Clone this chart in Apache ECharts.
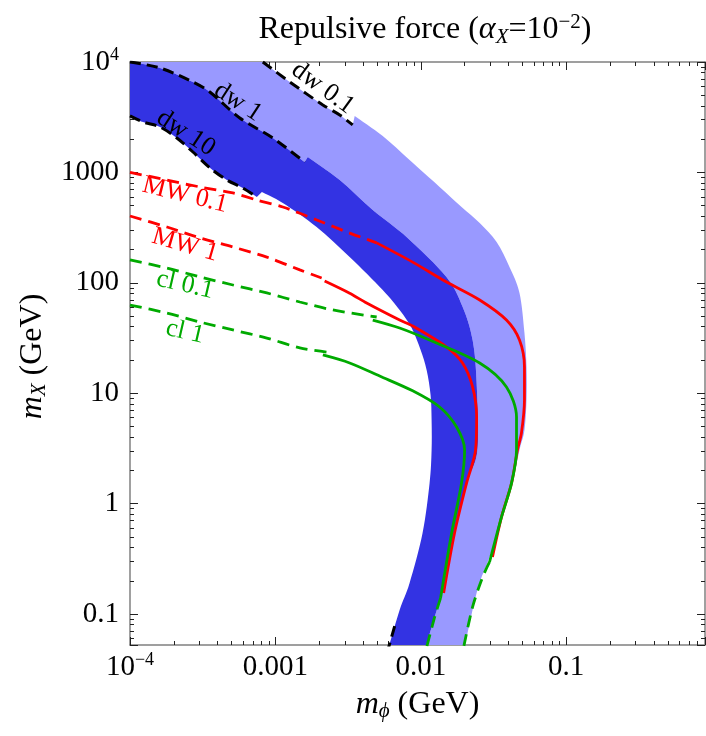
<!DOCTYPE html>
<html><head><meta charset="utf-8">
<script src="https://cdn.jsdelivr.net/npm/echarts@6/dist/echarts.min.js"></script>
<style>html,body{margin:0;padding:0;background:#fff}#c{width:706px;height:736px}</style>
</head><body><div id="c"></div>
<script>
// ===== data: [m_phi (GeV), m_X (GeV)] =====
const xTickValues = [1e-4, 1e-3, 0.01, 0.1];
const xTickTexts  = ['10{sup|−4}', '0.001', '0.01', '0.1'];
const yTickValues = [1e4, 1000, 100, 10, 1, 0.1];
const yTickTexts  = ['10{sup|4}', '1000', '100', '10', '1', '0.1'];

// dw 10 boundary (lower-left edge of dark band)
const dw10Dashed = [[1e-4,3250],[1.23e-4,2860],[1.61e-4,2580],[2.10e-4,2050],[2.71e-4,1530],[3.54e-4,1100],[4.64e-4,853],[5.97e-4,722],[7.45e-4,600]];
const dw10Edge = [[8.07e-4,664],[1.124e-3,528],[1.92e-3,320],[3.24e-3,171],[5.47e-3,86.1],[7.15e-3,56.8],[8.65e-3,39.0],[9.97e-3,24.6],[1.096e-2,16.2],[1.167e-2,9.64],[1.186e-2,5.71],[1.186e-2,3.06],[1.149e-2,1.54],[1.028e-2,0.542],[8.37e-3,0.191],[7.15e-3,0.109],[6.01e-3,0.05]];
const dw10Tail = [[6.61e-3,0.0778],[6.01e-3,0.05]];
// dw 1 boundary (dark / light)
const dw1Dashed = [[1e-4,10000],[1.61e-4,8830],[2.71e-4,6590],[3.54e-4,5350],[5.69e-4,3110],[9.60e-4,2050],[1.59e-3,1240]];
const dw1Edge = [[1.67e-3,1380],[2.77e-3,853],[4.67e-3,456],[8.11e-3,255],[1.50e-2,113],[1.94e-2,60.4],[2.27e-2,30.3],[2.42e-2,12.4],[2.45e-2,3.06],[2.07e-2,1.54],[1.71e-2,0.542],[1.39e-2,0.155],[1.245e-2,0.094],[1.08e-2,0.05]];
// dw 0.1 boundary (outer edge of light band)
const dw01Dashed = [[8.19e-4,10000],[1.256e-3,6590],[2.12e-3,4080],[2.77e-3,3310],[3.40e-3,2690]];
const dw01Edge = [[3.51e-3,3250],[5.47e-3,2138],[8.37e-3,1294],[1.346e-2,738],[1.906e-2,486],[2.54e-2,348],[3.32e-2,234],[4.07e-2,139],[4.77e-2,80.9],[5.16e-2,35.1],[5.33e-2,17.3],[5.33e-2,8.67],[5.16e-2,4.64],[4.77e-2,3.06],[4.27e-2,1.54],[3.65e-2,0.757],[2.97e-2,0.328],[2.45e-2,0.165],[2.00e-2,0.05]];

// MW curves (red)
const mw01Dashed = [[1e-4,1000],[1.795e-4,853],[3.03e-4,738],[5.10e-4,651],[7.45e-4,562],[1.124e-3,486],[1.924e-3,371],[3.24e-3,282],[4.97e-3,230]];
const mw01Solid = [[4.97e-3,230],[8.79e-3,154],[1.504e-2,101.6],[2.54e-2,69.9],[3.88e-2,46.0],[4.77e-2,30.3],[5.16e-2,17.3],[5.16e-2,8.67],[4.92e-2,4.36],[4.62e-2,3.06],[4.21e-2,1.54],[3.59e-2,0.757],[3.11e-2,0.328]];
const mw1Dashed = [[1e-4,403],[1.795e-4,320],[3.03e-4,255],[5.10e-4,211],[8.73e-4,171],[1.472e-3,131],[2.08e-3,110.5]];
const mw1Solid = [[2.18e-3,103.8],[3.24e-3,80.5],[4.24e-3,65.6],[7.15e-3,46.0],[8.79e-3,40.6],[1.504e-2,26.2],[1.936e-2,18.8],[2.27e-2,11.4],[2.42e-2,6.09],[2.38e-2,3.06],[2.065e-2,1.54],[1.706e-2,0.542],[1.435e-2,0.155]];
// cl curves (green)
const cl01Dashed = [[1e-4,161],[1.795e-4,136],[3.03e-4,113],[5.10e-4,95.5],[8.73e-4,80.9],[1.472e-3,67.0],[2.48e-3,56.8],[4.97e-3,49.0]];
const cl01Solid = [[4.67e-3,46.0],[7.15e-3,39.0],[1.149e-2,30.3],[2.54e-2,18.8],[3.88e-2,11.4],[4.55e-2,6.09],[4.55e-2,3.06],[4.21e-2,1.54],[3.59e-2,0.757],[2.97e-2,0.296]];
const cl01Tail = [[2.97e-2,0.296],[2.66e-2,0.216],[2.27e-2,0.116],[1.97e-2,0.05]];
const cl1Dashed = [[1e-4,62.9],[1.795e-4,53.2],[3.03e-4,44.1],[5.10e-4,37.4],[8.73e-4,31.6],[1.472e-3,25.7],[2.25e-3,23.6]];
const cl1Solid = [[2.12e-3,22.2],[3.24e-3,18.8],[5.21e-3,14.3],[8.79e-3,10.5],[1.346e-2,7.50],[1.762e-2,4.94],[2.00e-2,3.06],[1.906e-2,1.54],[1.629e-2,0.542],[1.368e-2,0.140]];
const cl1Tail = [[1.368e-2,0.140],[1.245e-2,0.094],[1.096e-2,0.05]];

// curve labels: text, anchor (data units), clockwise tilt in degrees
const curveLabels = [
  {text:'dw 0.1', at:[2.12e-3,5810], tilt:36, kind:'dw'},
  {text:'dw 1',   at:[5.52e-4,4350], tilt:33, kind:'dw'},
  {text:'dw 10',  at:[2.42e-4,2275], tilt:33, kind:'dw'},
  {text:'MW 0.1', at:[2.39e-4,624],  tilt:14, kind:'mw'},
  {text:'MW 1',   at:[2.39e-4,220],  tilt:16, kind:'mw'},
  {text:'cl 0.1', at:[2.39e-4,95.5], tilt:13, kind:'cl'},
  {text:'cl 1',   at:[2.39e-4,35.8], tilt:13, kind:'cl'}
];

// ===== styling =====
const SERIF = "'Liberation Serif','Times New Roman',serif";
const DARK = '#3333e3', LIGHT = '#9999ff', RED = '#ff0000', GREEN = '#00aa00', BLACK = '#000';
const kindColor = {dw: BLACK, mw: RED, cl: GREEN};
const rev = a => a.slice().reverse();

// polygons as lists of edges; each edge is smoothed when drawn, edges joined by straight segments
const darkEdges = [dw10Dashed, dw10Edge, rev(dw1Edge), rev(dw1Dashed)];
const lightEdges = [dw1Dashed, dw1Edge, rev(dw01Edge), rev(dw01Dashed)];

function smoothPath(pts, first) {
  let d = (first ? 'M' : 'L') + pts[0][0].toFixed(2) + ' ' + pts[0][1].toFixed(2);
  for (let i = 0; i < pts.length - 1; i++) {
    const p0 = pts[Math.max(i - 1, 0)], p1 = pts[i], p2 = pts[i + 1], p3 = pts[Math.min(i + 2, pts.length - 1)];
    const c1 = [p1[0] + (p2[0] - p0[0]) / 6, p1[1] + (p2[1] - p0[1]) / 6];
    const c2 = [p2[0] - (p3[0] - p1[0]) / 6, p2[1] - (p3[1] - p1[1]) / 6];
    d += 'C' + c1[0].toFixed(2) + ' ' + c1[1].toFixed(2) + ' ' + c2[0].toFixed(2) + ' ' + c2[1].toFixed(2) + ' ' + p2[0].toFixed(2) + ' ' + p2[1].toFixed(2);
  }
  return d;
}
function bandSeries(edges, color, z) {
  return {type:'custom', coordinateSystem:'cartesian2d', z, silent:true, clip:true,
    data:[edges[0][0]],
    renderItem:(params, api) => {
      let d = '';
      edges.forEach((e, k) => { d += smoothPath(e.map(p => api.coord(p)), k === 0); });
      d += 'Z';
      return {type:'path', shape:{pathData:d}, style:{fill:color, stroke:null}};
    }};
}
function lineSeries(data, color, width, dash, z) {
  return {type:'line', data, symbol:'none', showSymbol:false, smooth:0.3, silent:true, z,
    lineStyle:{color, width, type: dash ? dash : 'solid', cap:'butt'}};
}
function tickFormatter(vals, texts) {
  return v => {
    for (let i = 0; i < vals.length; i++) {
      if (Math.abs(Math.log10(v) - Math.log10(vals[i])) < 1e-6) return texts[i];
    }
    return '';
  };
}
const supRich = {sup:{fontSize:18, fontFamily:SERIF, color:'#000', verticalAlign:'top', lineHeight:14}};
const nameRich = {
  i:{fontFamily:SERIF, fontSize:32, fontStyle:'italic', color:'#000', lineHeight:34},
  sub:{fontFamily:SERIF, fontSize:21, fontStyle:'italic', color:'#000', verticalAlign:'bottom', lineHeight:22}
};
const baseAxis = {
  type:'log', logBase:10,
  axisLine:{show:true, onZero:false, lineStyle:{color:'#808080', width:1.5}},
  axisTick:{show:true, inside:true, length:8, lineStyle:{color:'#222', width:1}},
  minorTick:{show:true, splitNumber:9, length:4, lineStyle:{color:'#222', width:1}},
  splitLine:{show:false}, minorSplitLine:{show:false}
};
const XMIN = 1e-4, XMAX = 0.9, YMIN = 0.0524, YMAX = 1e4;

const chart = echarts.init(document.getElementById('c'), null, {renderer:'canvas'});
chart.setOption({
  animation:false,
  backgroundColor:'#fff',
  title:{
    text:'Repulsive force ({a|α}{sub|X}=10{sup|−2})',
    left:420, top:7, textAlign:'center',
    textStyle:{fontFamily:SERIF, fontSize:32, fontWeight:'normal', color:'#000', lineHeight:36,
      rich:{
        a:{fontFamily:SERIF, fontSize:32, fontStyle:'italic', color:'#000', lineHeight:36},
        sub:{fontFamily:SERIF, fontSize:21, fontStyle:'italic', color:'#000', verticalAlign:'bottom', lineHeight:22},
        sup:{fontFamily:SERIF, fontSize:21, color:'#000', verticalAlign:'top', lineHeight:18}
      }}
  },
  grid:{left:130, top:62, width:575, height:583, outerBoundsMode:'none', containLabel:false},
  xAxis:[
    Object.assign({}, baseAxis, {position:'bottom', min:XMIN, max:XMAX,
      axisLabel:{show:true, formatter:tickFormatter(xTickValues, xTickTexts), fontFamily:SERIF, fontSize:29, color:'#000', margin:6, lineHeight:32, rich:supRich},
      name:'{i|m}{sub|ϕ} (GeV)', nameLocation:'middle', nameGap:37,
      nameTextStyle:{fontFamily:SERIF, fontSize:32, color:'#000', lineHeight:34, rich:nameRich}}),
    Object.assign({}, baseAxis, {position:'top', min:XMIN, max:XMAX, axisLabel:{show:false}})
  ],
  yAxis:[
    Object.assign({}, baseAxis, {position:'left', min:YMIN, max:YMAX,
      axisLabel:{show:true, formatter:tickFormatter(yTickValues, yTickTexts), fontFamily:SERIF, fontSize:29, color:'#000', margin:11, lineHeight:32, rich:supRich},
      name:'{i|m}{sub|X} (GeV)', nameLocation:'middle', nameGap:80, nameRotate:90,
      nameTextStyle:{fontFamily:SERIF, fontSize:32, color:'#000', lineHeight:34, padding:[0,6,0,0], rich:nameRich}}),
    Object.assign({}, baseAxis, {position:'right', min:YMIN, max:YMAX, axisLabel:{show:false}})
  ],
  series:[
    bandSeries(lightEdges, LIGHT, 1),
    bandSeries(darkEdges, DARK, 1),
    lineSeries(dw10Dashed, BLACK, 3, [11,6], 3),
    lineSeries(dw1Dashed, BLACK, 3, [11,6], 3),
    lineSeries(dw01Dashed, BLACK, 3, [11,6], 3),
    lineSeries(dw10Tail, BLACK, 3, [11,6], 3),
    lineSeries(mw01Dashed, RED, 2.8, [12,7], 4),
    lineSeries(mw01Solid, RED, 2.8, null, 4),
    lineSeries(mw1Dashed, RED, 2.8, [12,7], 4),
    lineSeries(mw1Solid, RED, 2.8, null, 4),
    lineSeries(cl01Dashed, GREEN, 2.8, [12,7], 5),
    lineSeries(cl01Solid, GREEN, 2.8, null, 5),
    lineSeries(cl01Tail, GREEN, 2.8, [12,7], 5),
    lineSeries(cl1Dashed, GREEN, 2.8, [12,7], 5),
    lineSeries(cl1Solid, GREEN, 2.8, null, 5),
    lineSeries(cl1Tail, GREEN, 2.8, [12,7], 5),
    {type:'custom', coordinateSystem:'cartesian2d', z:6, silent:true,
      data: curveLabels.map(l => l.at),
      renderItem:(params, api) => {
        const l = curveLabels[params.dataIndex];
        const p = api.coord([api.value(0), api.value(1)]);
        return {type:'text', x:p[0], y:p[1], rotation:-l.tilt * Math.PI / 180,
          style:{text:l.text, fill:kindColor[l.kind], fontFamily:SERIF, fontSize:26, align:'center', verticalAlign:'middle'}};
      }}
  ]
});
</script>
</body></html>
